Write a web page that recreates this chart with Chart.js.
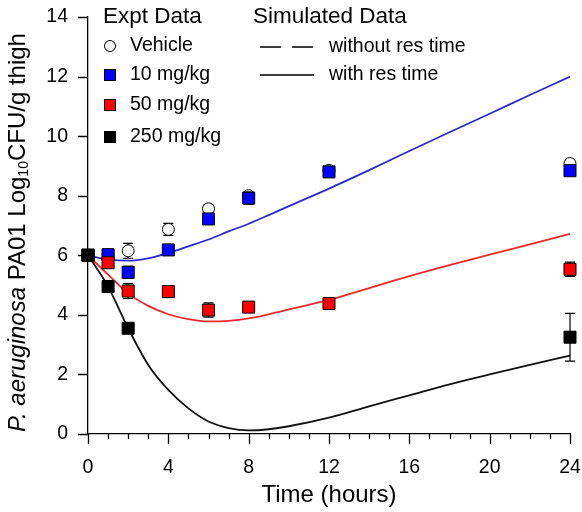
<!DOCTYPE html>
<html>
<head>
<meta charset="utf-8">
<script src="https://cdn.jsdelivr.net/npm/chart.js@4/dist/chart.umd.min.js"></script>
<style>
  html, body { margin: 0; padding: 0; background: #fff; }
  #wrap { width: 582px; height: 512px; position: relative; }
</style>
</head>
<body>
<div id="wrap"><canvas id="c" width="582" height="512"></canvas></div>
<script>
// Sampling times (hours) for the measured thigh burdens
const hours = [0, 1, 2, 4, 6, 8, 12, 24];
const hours250 = [0, 1, 2, 24];

// Mean log10 CFU/g thigh and error (SD) per group
const vehicleMean = [6.0, 6.02, 6.15, 6.87, 7.56, 8.0, 8.85, 9.08];
const vehicleErr  = [0.05, 0.05, 0.25, 0.2, 0.14, 0.1, 0.1, 0.12];
const dose10Mean  = [6.0, 6.02, 5.43, 6.18, 7.22, 7.92, 8.8, 8.84];
const dose10Err   = [0.05, 0.1, 0.2, 0.17, 0.17, 0.2, 0.15, 0.12];
const dose50Mean  = [6.0, 5.75, 4.8, 4.78, 4.16, 4.26, 4.38, 5.53];
const dose50Err   = [0.05, 0.12, 0.25, 0.17, 0.24, 0.15, 0.12, 0.24];
const dose250Mean = [6.0, 4.95, 3.55, 3.25];
const dose250Err  = [0.05, 0.19, 0.1, 0.8];

// Simulated profiles (with residence time)
const simHours   = [0, 1, 2, 3, 4, 5, 6, 7, 8, 9, 10, 12, 14, 16, 18, 20, 22, 24];
const sim10      = [6.0, 5.86, 5.82, 5.9, 6.08, 6.3, 6.53, 6.8, 7.06, 7.35, 7.65, 8.24, 8.86, 9.5, 10.13, 10.75, 11.38, 12.0];
const sim50      = [6.0, 5.35, 4.72, 4.3, 4.02, 3.86, 3.78, 3.8, 3.88, 4.02, 4.18, 4.5, 4.9, 5.3, 5.67, 6.02, 6.37, 6.72];
const sim250     = [6.0, 4.95, 3.55, 2.32, 1.48, 0.86, 0.42, 0.2, 0.12, 0.16, 0.26, 0.55, 0.93, 1.3, 1.67, 2.0, 2.32, 2.63];

// Axis ticks
const xTicks = [0, 4, 8, 12, 16, 20, 24];
const yTicks = [0, 2, 4, 6, 8, 10, 12, 14];

const FONT = '"Liberation Sans", Arial, Helvetica, sans-serif';
const BLUE = '#0000ff', RED = '#ff0000', BLACK = '#000000';
const BLUE_LINE = '#2a2ad0', RED_LINE = '#e8282a', BLACK_LINE = '#111111';

const pts = (xs, ys) => xs.map((x, i) => ({ x: x, y: ys[i] }));

function markerSet(label, xs, ys, errs, fill, style, radius, order) {
  return {
    type: 'scatter', label, data: pts(xs, ys), errors: errs, clip: false,
    showLine: false, pointStyle: style, pointRadius: radius, pointHoverRadius: radius,
    backgroundColor: fill, borderColor: '#000', pointBorderWidth: 1, order
  };
}
function curveSet(label, ys, color) {
  return {
    type: 'line', label, data: pts(simHours, ys), borderColor: color, borderWidth: 1.8,
    pointRadius: 0, fill: false, cubicInterpolationMode: 'monotone', order: 10, clip: false
  };
}

// Vertical error bars with caps, drawn just beneath each marker set
const errorBars = {
  id: 'errorBars',
  beforeDatasetDraw(chart, args) {
    const ds = chart.data.datasets[args.index];
    if (!ds.errors) return;
    const { ctx, scales: { x, y } } = chart;
    ctx.save();
    ctx.strokeStyle = '#000'; ctx.lineWidth = 1.2;
    ds.data.forEach((p, i) => {
      const e = ds.errors[i];
      const px = x.getPixelForValue(p.x);
      const top = y.getPixelForValue(p.y + e), bot = y.getPixelForValue(p.y - e);
      ctx.beginPath();
      ctx.moveTo(px, top); ctx.lineTo(px, bot);
      ctx.moveTo(px - 5, top); ctx.lineTo(px + 5, top);
      ctx.moveTo(px - 5, bot); ctx.lineTo(px + 5, bot);
      ctx.stroke();
    });
    ctx.restore();
  }
};

// Outward tick marks: long at labelled hours, short at every hour
const tickMarks = {
  id: 'tickMarks',
  afterDraw(chart) {
    const { ctx, scales: { x, y }, chartArea } = chart;
    ctx.save();
    ctx.strokeStyle = '#000'; ctx.lineWidth = 1.3;
    ctx.beginPath();
    for (let h = 0; h <= 24; h++) {
      const px = Math.round(x.getPixelForValue(h)) + 0.5;
      ctx.moveTo(px, chartArea.bottom);
      ctx.lineTo(px, chartArea.bottom + (xTicks.includes(h) ? 10 : 5));
    }
    yTicks.forEach(v => {
      const py = Math.round(y.getPixelForValue(v)) + 0.5;
      ctx.moveTo(chartArea.left - 10, py);
      ctx.lineTo(chartArea.left, py);
    });
    ctx.stroke();
    ctx.restore();
  }
};

// Y-axis title with italic species name and subscript
const yTitle = {
  id: 'yTitle',
  afterDraw(chart) {
    const { ctx, chartArea } = chart;
    const size = 24, sub = 14;
    const parts = [
      { t: 'P. aeruginosa', f: `italic ${size}px ${FONT}`, dy: 0 },
      { t: ' PA01 Log', f: `${size}px ${FONT}`, dy: 0 },
      { t: '10', f: `${sub}px ${FONT}`, dy: 6 },
      { t: 'CFU/g thigh', f: `${size}px ${FONT}`, dy: 0 }
    ];
    ctx.save();
    let total = 0;
    parts.forEach(p => { ctx.font = p.f; p.w = ctx.measureText(p.t).width; total += p.w; });
    const cy = (chartArea.top + chartArea.bottom) / 2 + 7;
    ctx.translate(18, cy);
    ctx.rotate(-Math.PI / 2);
    ctx.fillStyle = '#000'; ctx.textBaseline = 'middle'; ctx.textAlign = 'left';
    let xPos = -total / 2;
    parts.forEach(p => { ctx.font = p.f; ctx.fillText(p.t, xPos, p.dy); xPos += p.w; });
    ctx.restore();
  }
};

// Two-column key: experimental groups and simulated curve styles
const key = {
  id: 'key',
  afterDraw(chart) {
    const ctx = chart.ctx;
    ctx.save();
    ctx.fillStyle = '#000'; ctx.textBaseline = 'middle'; ctx.textAlign = 'left';
    ctx.font = `22.5px ${FONT}`;
    ctx.fillText('Expt Data', 103, 17);
    ctx.fillText('Simulated Data', 253, 17);
    ctx.font = `19.5px ${FONT}`;
    const rows = [
      { t: 'Vehicle', y: 46, fill: null },
      { t: '10 mg/kg', y: 75, fill: BLUE },
      { t: '50 mg/kg', y: 105, fill: RED },
      { t: '250 mg/kg', y: 137, fill: BLACK }
    ];
    rows.forEach(r => {
      ctx.lineWidth = 1;
      ctx.strokeStyle = '#000';
      if (r.fill) {
        ctx.fillStyle = r.fill;
        ctx.fillRect(104, r.y - 6, 12, 12);
        ctx.strokeRect(104.5, r.y - 5.5, 11, 11);
      } else {
        ctx.beginPath(); ctx.arc(110, r.y, 5.5, 0, Math.PI * 2); ctx.stroke();
      }
      ctx.fillStyle = '#000';
      ctx.fillText(r.t, 130, r.y);
    });
    ctx.strokeStyle = '#000'; ctx.lineWidth = 1.6;
    ctx.setLineDash([21, 11]);
    ctx.beginPath(); ctx.moveTo(260, 47); ctx.lineTo(313, 47); ctx.stroke();
    ctx.setLineDash([]);
    ctx.beginPath(); ctx.moveTo(260, 75); ctx.lineTo(314, 75); ctx.stroke();
    ctx.fillText('without res time', 329, 47);
    ctx.fillText('with res time', 329, 75);
    ctx.restore();
  }
};

new Chart(document.getElementById('c'), {
  data: {
    datasets: [
      curveSet('10 mg/kg simulated', sim10, BLUE_LINE),
      curveSet('50 mg/kg simulated', sim50, RED_LINE),
      curveSet('250 mg/kg simulated', sim250, BLACK_LINE),
      markerSet('Vehicle', hours, vehicleMean, vehicleErr, '#ffffff', 'circle', 6, 4),
      markerSet('10 mg/kg', hours, dose10Mean, dose10Err, BLUE, 'rect', 8.5, 3),
      markerSet('50 mg/kg', hours, dose50Mean, dose50Err, RED, 'rect', 8.5, 2),
      markerSet('250 mg/kg', hours250, dose250Mean, dose250Err, BLACK, 'rect', 8.5, 1)
    ]
  },
  options: {
    responsive: false,
    animation: false,
    events: [],
    layout: { padding: { top: 17, right: 12, left: 0, bottom: 0 } },
    plugins: { legend: { display: false }, tooltip: { enabled: false } },
    scales: {
      x: {
        type: 'linear', min: 0, max: 24,
        afterFit(s) { s.height = 78; s.paddingLeft = 0; s.paddingRight = 0; },
        grid: { display: false, drawTicks: false },
        border: { display: true, color: '#000', width: 1.3 },
        afterBuildTicks(s) { s.ticks = xTicks.map(v => ({ value: v })); },
        ticks: { font: { size: 19.5, family: FONT }, color: '#000', padding: 22, maxRotation: 0, autoSkip: false },
        title: { display: true, text: 'Time (hours)', font: { size: 24, family: FONT }, color: '#000', padding: { top: 0, bottom: 2 } }
      },
      y: {
        type: 'linear', min: 0, max: 14,
        afterFit(s) { s.width = 88; s.paddingTop = 0; s.paddingBottom = 0; },
        grid: { display: false, drawTicks: false },
        border: { display: true, color: '#000', width: 1.3 },
        afterBuildTicks(s) { s.ticks = yTicks.map(v => ({ value: v })); },
        ticks: { font: { size: 19.5, family: FONT }, color: '#000', padding: 20 }
      }
    }
  },
  plugins: [errorBars, tickMarks, yTitle, key]
});
</script>
</body>
</html>
